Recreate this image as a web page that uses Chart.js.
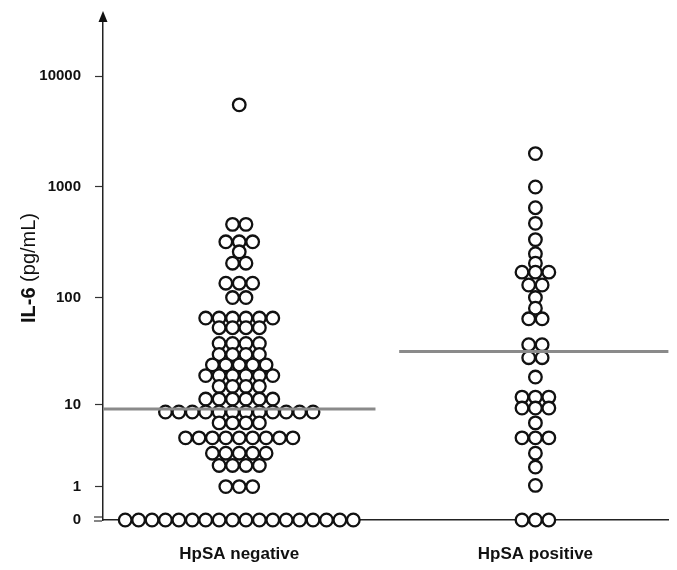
<!DOCTYPE html>
<html>
<head>
<meta charset="utf-8">
<script src="https://cdn.jsdelivr.net/npm/chart.js@4.4.1/dist/chart.umd.min.js"></script>
<style>
  html, body { margin: 0; padding: 0; background: #fff; }
  #chart { display: block; }
</style>
</head>
<body>
<canvas id="chart" width="677" height="570"></canvas>
<script>
// Data (IL-6 in pg/mL, one dot per patient)
const groups = ['HpSA negative', 'HpSA positive'];
const negLevels = [5500, 460, 320, 260, 205, 135, 100, 65, 53, 38, 30, 24, 19, 15, 11.3, 8.4, 6.5, 4.5, 3, 2.1, 1, 0];
const negCounts = [1, 2, 3, 1, 2, 3, 2, 6, 4, 4, 4, 5, 6, 4, 6, 12, 4, 9, 5, 4, 3, 18];
const posLevels = [2000, 1000, 650, 470, 335, 250, 205, 170, 130, 100, 80, 64, 37, 28, 18.4, 11.8, 9.2, 6.5, 4.5, 3, 2, 1.05, 0];
const posCounts = [1, 1, 1, 1, 1, 1, 1, 3, 2, 1, 1, 2, 2, 2, 1, 3, 3, 1, 3, 1, 1, 1, 3];
const medians = [9, 32];
const yTickValues = [0, 1, 10, 100, 1000, 10000];

const FONT = '"Liberation Sans", Arial, Helvetica, sans-serif';
const INK = '#111';

// the axis is log10(value + 1) so zero can sit on it
const toAxis = v => Math.log10(v + 1);

const dotGap = 0.0453;     // one dot width, in x units
const medianHalf = 0.46;   // half length of the median bar

// centred rows, like a prism dot plot
function swarm(groupIndex, levels, counts) {
    const pts = [];
    levels.forEach((v, i) => {
        const n = counts[i];
        for (let k = 0; k < n; k++) {
            pts.push({ x: groupIndex + (k - (n - 1) / 2) * dotGap, y: toAxis(v) });
        }
    });
    return pts;
}

function medianLine(groupIndex) {
    const y = toAxis(medians[groupIndex]);
    return {
        type: 'line',
        data: [{ x: groupIndex - medianHalf, y: y }, { x: groupIndex + medianHalf, y: y }],
        borderColor: '#8a8a8a',
        borderWidth: 3,
        pointRadius: 0,
        order: 0
    };
}

function dots(groupIndex, levels, counts) {
    return {
        type: 'scatter',
        data: swarm(groupIndex, levels, counts),
        pointStyle: 'circle',
        pointRadius: 6.3,
        borderWidth: 2.3,
        borderColor: INK,
        backgroundColor: '#fff',
        clip: false,
        order: 1
    };
}

// arrow on top of the y axis, break marks at zero and the mixed-weight title
const axisExtras = {
    id: 'axisExtras',
    afterDraw(chart) {
        const ctx = chart.ctx;
        const area = chart.chartArea;
        const x = area.left;
        ctx.save();

        ctx.fillStyle = INK;
        ctx.beginPath();
        ctx.moveTo(x, area.top - 9);
        ctx.lineTo(x - 4.5, area.top + 2);
        ctx.lineTo(x + 4.5, area.top + 2);
        ctx.closePath();
        ctx.fill();

        ctx.strokeStyle = '#333';
        ctx.lineWidth = 1.2;
        [-3, 1].forEach(dy => {
            ctx.beginPath();
            ctx.moveTo(x - 9, area.bottom + dy);
            ctx.lineTo(x - 1, area.bottom + dy);
            ctx.stroke();
        });

        ctx.translate(29, 268);
        ctx.rotate(-Math.PI / 2);
        ctx.textBaseline = 'middle';
        ctx.textAlign = 'left';
        const boldFont = 'bold 20px ' + FONT;
        const plainFont = '20px ' + FONT;
        ctx.font = boldFont;
        const w1 = ctx.measureText('IL-6').width;
        ctx.font = plainFont;
        const w2 = ctx.measureText(' (pg/mL)').width;
        const start = -(w1 + w2) / 2;
        ctx.fillStyle = INK;
        ctx.font = boldFont;
        ctx.fillText('IL-6', start, 0);
        ctx.font = plainFont;
        ctx.fillText(' (pg/mL)', start + w1, 0);
        ctx.restore();
    }
};

new Chart(document.getElementById('chart'), {
    data: {
        datasets: [
            medianLine(0),
            medianLine(1),
            dots(0, negLevels, negCounts),
            dots(1, posLevels, posCounts)
        ]
    },
    options: {
        responsive: false,
        animation: false,
        events: [],
        layout: { padding: { top: 20, right: 5, left: 0, bottom: 0 } },
        plugins: { legend: { display: false }, tooltip: { enabled: false } },
        scales: {
            x: {
                type: 'linear',
                min: -0.46,
                max: 1.449,
                afterBuildTicks: scale => {
                    scale.ticks = groups.map((g, i) => ({ value: i }));
                },
                afterFit: scale => { scale.height = 50; },
                ticks: {
                    callback: (value, index) => groups[index],
                    font: { family: FONT, size: 17, weight: 'bold' },
                    color: INK,
                    padding: 24,
                    maxRotation: 0,
                    autoSkip: false
                },
                grid: { drawOnChartArea: false, drawTicks: false },
                border: { color: '#222', width: 1.5 }
            },
            y: {
                type: 'linear',
                min: 0,
                max: 4.505,
                afterBuildTicks: scale => {
                    scale.ticks = yTickValues.map(v => ({ value: toAxis(v) }));
                },
                afterFit: scale => {
                    scale.width = 103;
                    scale.paddingTop = 0;
                    scale.paddingBottom = 0;
                },
                ticks: {
                    callback: (value, index) => String(yTickValues[index]),
                    font: { family: FONT, size: 15, weight: 'bold' },
                    color: INK,
                    padding: 14
                },
                grid: {
                    drawOnChartArea: false,
                    tickLength: 8,
                    tickWidth: 1.2,
                    tickColor: c => (c.tick && c.tick.value === 0 ? 'rgba(0,0,0,0)' : '#333')
                },
                border: { color: '#222', width: 1.5 }
            }
        }
    },
    plugins: [axisExtras]
});
</script>
</body>
</html>
